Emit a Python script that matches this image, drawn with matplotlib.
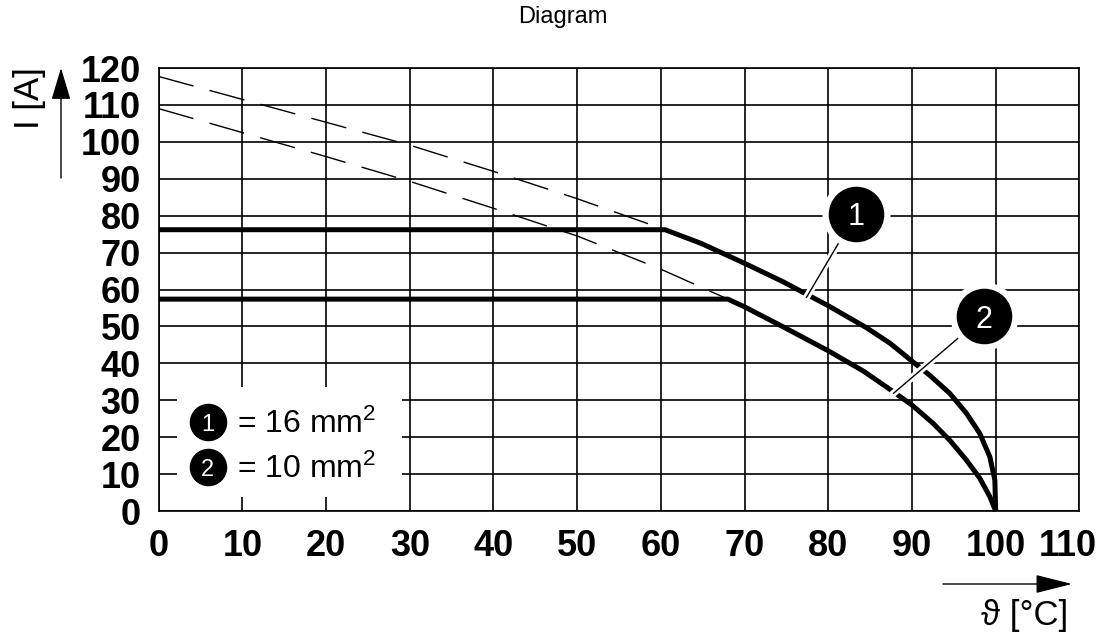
import matplotlib
matplotlib.use('Agg')
import matplotlib.pyplot as plt
import matplotlib.patheffects as pe
from matplotlib.patches import Rectangle
from matplotlib.transforms import ScaledTranslation

plt.rcParams['font.family'] = ['Liberation Sans', 'DejaVu Sans']
plt.rcParams['mathtext.fontset'] = 'custom'
plt.rcParams['mathtext.rm'] = 'Liberation Sans'
plt.rcParams['mathtext.it'] = 'Liberation Sans'

# derating curves
temp_16 = [0, 60.5, 64.8, 70, 74.6, 80, 84.6, 87.4, 88.6, 90, 92.1, 94.5, 96.5, 98.1, 99.3, 99.9, 100]
amps_16 = [76.2, 76.2, 72.5, 67.1, 62.1, 55.6, 49.6, 45.4, 43.2, 40.6, 36.8, 31.9, 26.5, 21, 14.7, 8.4, 0]

temp_10 = [0, 68, 70, 74.6, 80, 84.2, 87.4, 90, 92.5, 94.5, 96.5, 98.1, 99.3, 100]
amps_10 = [57.4, 57.4, 55.3, 49.9, 43.4, 37.9, 32.9, 28.7, 23.8, 19.2, 13.8, 8.9, 3.9, 0]

# dashed base curves
temp_base_16 = [0, 10, 20, 30, 40, 50, 60.5]
amps_base_16 = [117.7, 111.5, 105.3, 99.1, 92, 84.6, 76.2]
temp_base_10 = [0, 10, 20, 30, 40, 50, 60, 68]
amps_base_10 = [109, 102.5, 96, 89.3, 82, 74.5, 65.5, 57.4]

x_ticks = list(range(0, 111, 10))
y_ticks = list(range(0, 121, 10))

legend_labels = ['1', '2']
legend_texts = ['= 16 mm$^2$', '= 10 mm$^2$']

fig = plt.figure(figsize=(11.09, 6.38), dpi=100)
ax = fig.add_axes([0.1431, 0.199, 0.9733 - 0.1431, 0.6944])

ax.set_xlim(0, 110)
ax.set_ylim(0, 120)
ax.set_xticks(x_ticks)
ax.set_yticks(y_ticks)
ax.set_xticklabels([str(v) for v in x_ticks], fontsize=26, fontweight='bold')
ax.set_yticklabels([str(v) for v in y_ticks], fontsize=26, fontweight='bold')
ax.tick_params(length=0, pad=13)
ax.grid(True, color='black', linewidth=1.2, zorder=1)
ax.set_axisbelow(True)
for sp in ax.spines.values():
    sp.set_linewidth(1.2)
    sp.set_zorder(6)

# shift the "110" label left a bit like the original
lbl = ax.get_xticklabels()[-1]
lbl.set_transform(lbl.get_transform() + ScaledTranslation(-12 / 100, 0, fig.dpi_scale_trans))

ax.plot(temp_base_16, amps_base_16, color='black', lw=1.0, dashes=(26, 12), zorder=3)
ax.plot(temp_base_10, amps_base_10, color='black', lw=1.0, dashes=(26, 12), zorder=3)
ax.plot(temp_16, amps_16, color='black', lw=3.6, zorder=4, clip_on=False,
        solid_capstyle='butt', solid_joinstyle='round')
ax.plot(temp_10, amps_10, color='black', lw=3.6, zorder=4, clip_on=False,
        solid_capstyle='butt', solid_joinstyle='round')

# legend box
ax.add_patch(Rectangle((2.2, 3.8), 26.9, 29.8, facecolor='white', edgecolor='none', zorder=5))
for lab, txt, cy, by in zip(legend_labels, legend_texts, [24.0, 11.8], [21.1, 8.9]):
    ax.plot([5.85], [cy], 'o', ms=26, color='black', zorder=7)
    ax.text(5.85, cy, lab, color='white', fontsize=17, ha='center', va='center_baseline', zorder=8)
    ax.text(9.3, by, txt, fontsize=23, ha='left', va='baseline', zorder=8)

# callouts
callouts = [((83.3, 80.5), (77.4, 57.9), '1'), ((98.6, 52.8), (87.8, 31.9), '2')]
for (cx, cy), (px, py), lab in callouts:
    ax.plot([cx, px], [cy, py], color='black', lw=1.0, zorder=7,
            path_effects=[pe.Stroke(linewidth=5, foreground='white'), pe.Normal()])
    ax.plot([cx], [cy], 'o', ms=48, color='white', zorder=8, clip_on=False)
    ax.plot([cx], [cy], 'o', ms=39, color='black', zorder=9, clip_on=False)
    ax.text(cx, cy, lab, color='white', fontsize=22, ha='center', va='center_baseline', zorder=10)

# axis labels with arrows
fig.text(30 / 1109, 1 - 98 / 638, 'I [A]', rotation=90, fontsize=25, ha='center', va='center')
ax.annotate('', xy=(61, 638 - 68), xytext=(61, 638 - 178), xycoords='figure pixels',
            arrowprops=dict(arrowstyle='-|>,head_length=2.0,head_width=0.6', color='black',
                            lw=1.0, shrinkA=0, shrinkB=0))
fig.text(1025 / 1109, 22 / 638, 'ϑ [°C]', fontsize=25, ha='center', va='center')
ax.annotate('', xy=(1072, 638 - 584), xytext=(943, 638 - 584), xycoords='figure pixels',
            arrowprops=dict(arrowstyle='-|>,head_length=2.3,head_width=0.58', color='black',
                            lw=1.0, shrinkA=0, shrinkB=0))

fig.text(563 / 1109, 1 - 17 / 638, 'Diagram', fontsize=17, ha='center', va='center')

fig.savefig('out.png', dpi=100)
